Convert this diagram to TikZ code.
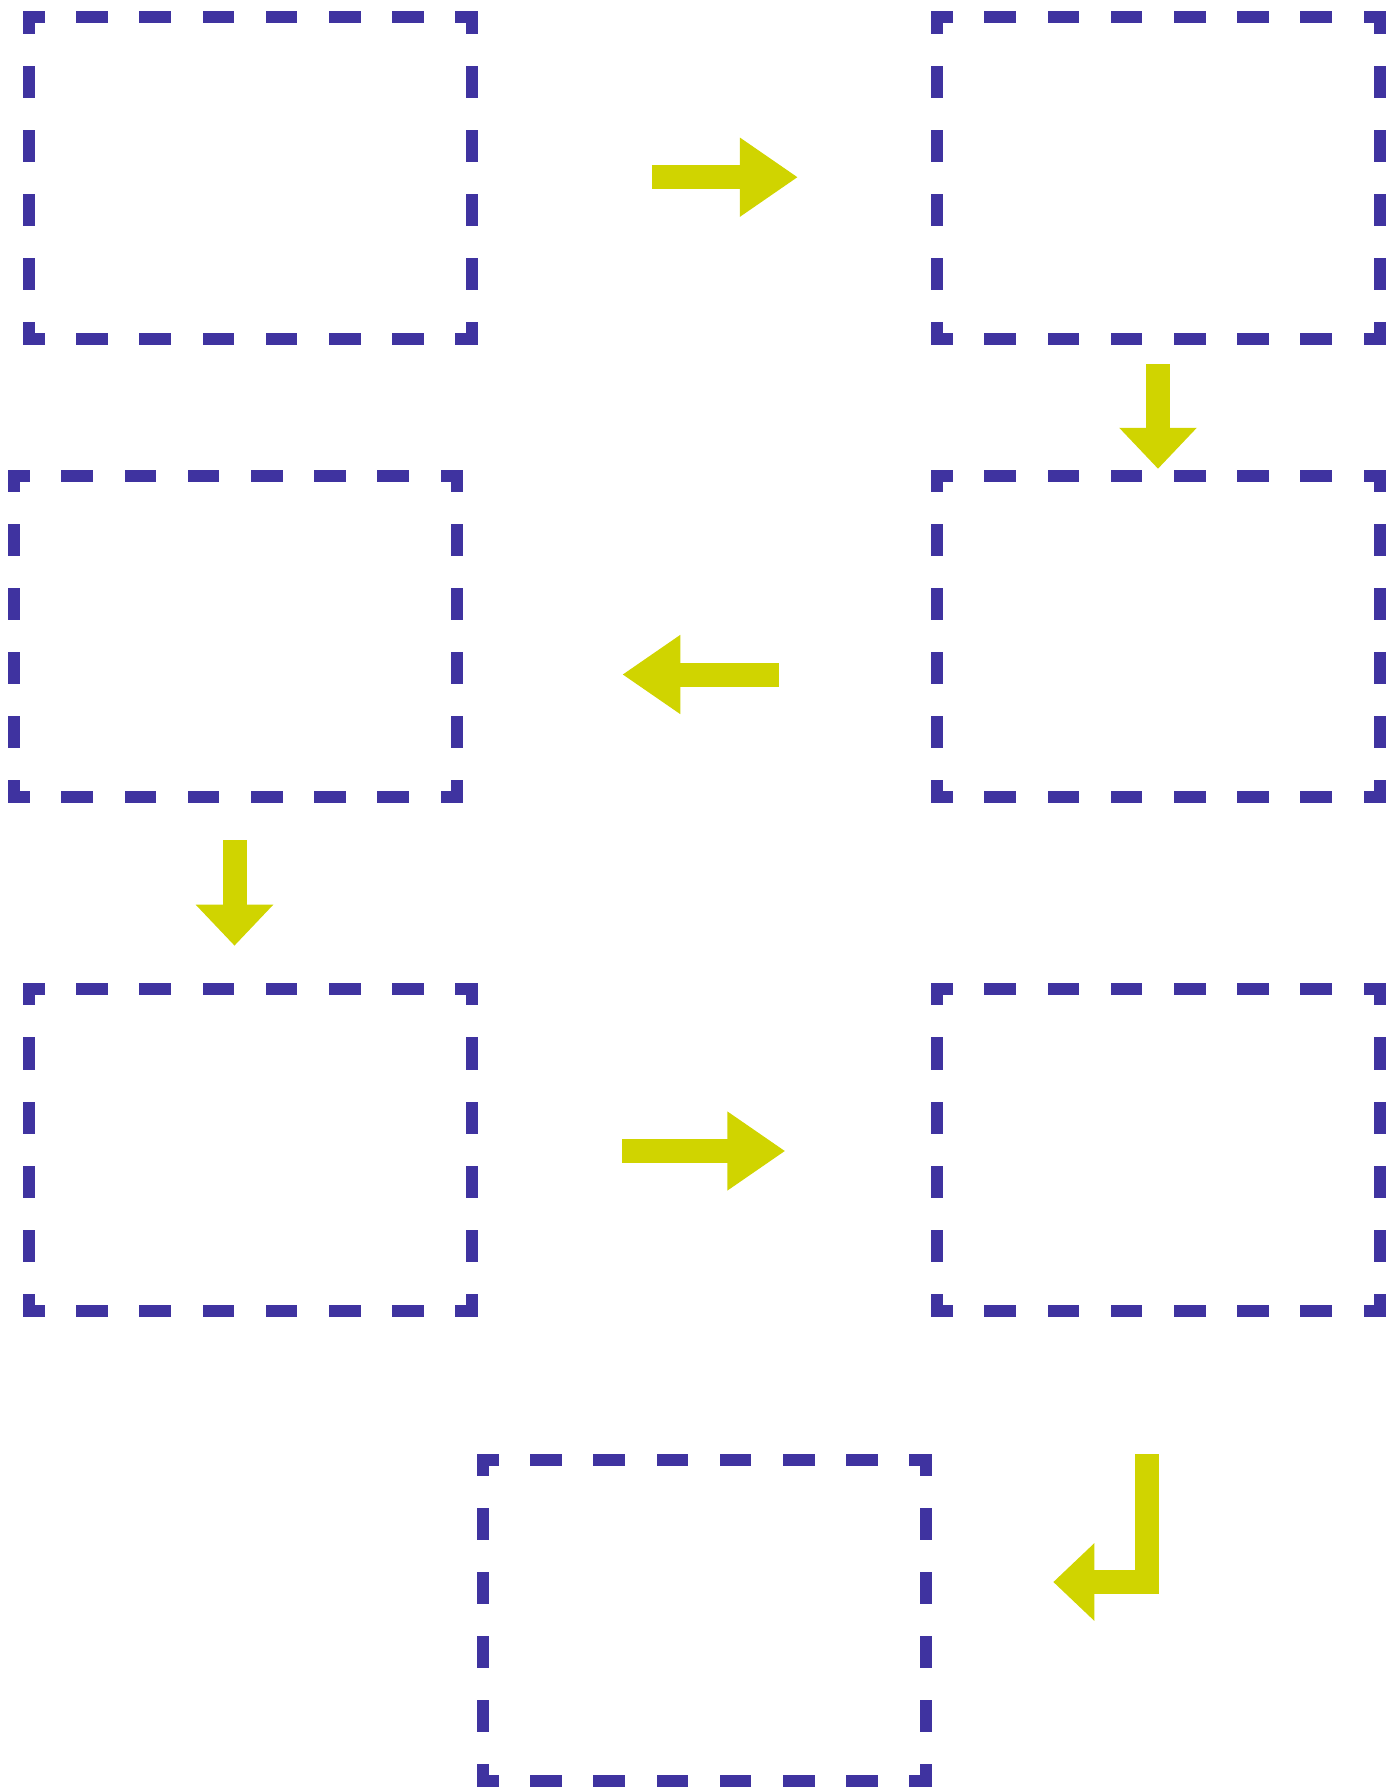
\documentclass[tikz,border=0pt]{standalone}
\usetikzlibrary{arrows.meta,calc}
\definecolor{boxc}{RGB}{63,51,160}
\definecolor{arrc}{RGB}{208,212,0}
\tikzset{
  boxnode/.style={rectangle, inner sep=0pt, minimum width=442.3pt, minimum height=321pt},
  boxline/.style={draw=boxc, line width=12pt, line cap=rect},
  hside/.style={boxline, dash pattern=on 19.6pt off 43.6pt, dash phase=9.8pt},
  vside/.style={boxline, dash pattern=on 20.1pt off 44.1pt, dash phase=10.05pt},
  connlong/.style={draw=arrc, line width=24pt, -{Triangle[length=58pt, width=75pt]}},
  connshort/.style={draw=arrc, line width=24pt, line join=miter, -{Triangle[length=41pt, width=75pt]}}
}
\newcommand\dashedframe[1]{%
  \draw[hside] (#1.north west) -- (#1.north east);
  \draw[hside] (#1.south west) -- (#1.south east);
  \draw[vside] (#1.north west) -- (#1.south west);
  \draw[vside] (#1.north east) -- (#1.south east);
}
\begin{document}
\begin{tikzpicture}[x=1pt, y=-1pt]
\useasboundingbox (0,0) rectangle (1389,1790);
\node[boxnode] (b1) at (250.2,178.2) {};
\node[boxnode] (b2) at (1158.3,178.2) {};
\node[boxnode] (b3) at (1158.3,636.2) {};
\node[boxnode] (b4) at (235.3,636.2) {};
\node[boxnode] (b5) at (250.2,1150) {};
\node[boxnode] (b6) at (1158.3,1150) {};
\node[boxnode] (b7) at (704.2,1620.2) {};
\dashedframe{b1}
\dashedframe{b2}
\dashedframe{b3}
\dashedframe{b4}
\dashedframe{b5}
\dashedframe{b6}
\dashedframe{b7}
% connectors
\draw[connlong] ([xshift=180.4pt, yshift=1pt]b1.east) -- ([xshift=-139pt, yshift=1pt]b2.west);
\draw[connshort] ([xshift=-0.3pt, yshift=-25.3pt]b2.south) -- ([xshift=-0.3pt, yshift=6.7pt]b3.north);
\draw[connlong] ([xshift=-158.3pt, yshift=-38.3pt]b3.west) -- ([xshift=165.6pt, yshift=-38.3pt]b4.east);
\draw[connshort] ([xshift=-0.8pt, yshift=-43.3pt]b4.south) -- ([xshift=-15.7pt, yshift=43.6pt]b5.north);
\draw[connlong] ([xshift=150.7pt, yshift=-1pt]b5.east) -- ([xshift=-151.6pt, yshift=-1pt]b6.west);
\draw[connshort] ([xshift=-11.3pt, yshift=-143.3pt]b6.south) |- ([xshift=127.7pt, yshift=38.2pt]b7.east);
\end{tikzpicture}
\end{document}
